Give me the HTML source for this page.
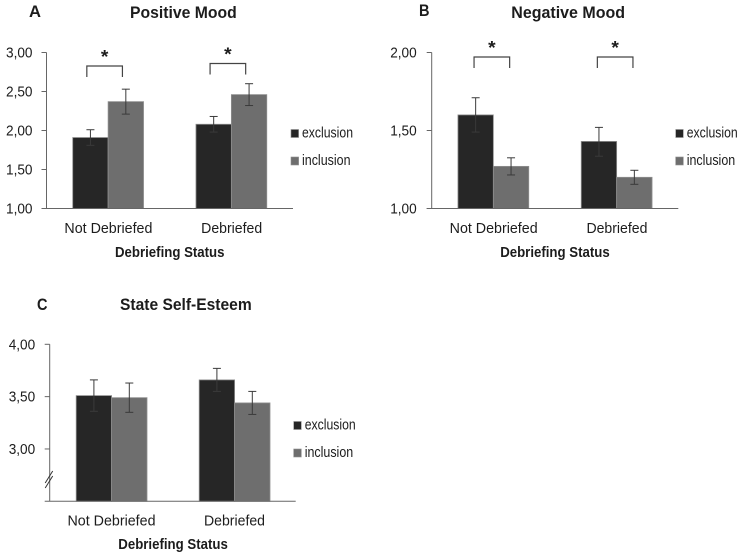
<!DOCTYPE html>
<html lang="en">
<head>
<meta charset="utf-8">
<title>Debriefing Status Charts</title>
<style>
html,body{margin:0;padding:0;background:#fff;width:740px;height:556px;overflow:hidden}
svg{display:block;filter:blur(0.35px)}
text{font-family:"Liberation Sans",sans-serif;fill:#1c1c1c}
</style>
</head>
<body>
<svg id="figure" width="740" height="556" viewBox="0 0 740 556" xmlns="http://www.w3.org/2000/svg"></svg>
<script>
const categories = ["Not Debriefed", "Debriefed"];
const seriesNames = ["exclusion", "inclusion"];
const axisTitle = "Debriefing Status";

const moodPosExclusion = [1.91, 2.08];
const moodPosInclusion = [2.37, 2.46];
const moodPosExclusionLow = [1.81, 1.98];
const moodPosExclusionHigh = [2.01, 2.18];
const moodPosInclusionLow = [2.21, 2.32];
const moodPosInclusionHigh = [2.53, 2.60];
const moodPosTicks = ["1,00", "1,50", "2,00", "2,50", "3,00"];

const moodNegExclusion = [1.60, 1.43];
const moodNegInclusion = [1.27, 1.20];
const moodNegExclusionLow = [1.49, 1.335];
const moodNegExclusionHigh = [1.71, 1.52];
const moodNegInclusionLow = [1.215, 1.155];
const moodNegInclusionHigh = [1.325, 1.245];
const moodNegTicks = ["1,00", "1,50", "2,00"];

const esteemExclusion = [3.51, 3.66];
const esteemInclusion = [3.49, 3.44];
const esteemExclusionLow = [3.36, 3.55];
const esteemExclusionHigh = [3.66, 3.77];
const esteemInclusionLow = [3.35, 3.33];
const esteemInclusionHigh = [3.63, 3.55];
const esteemTicks = ["3,00", "3,50", "4,00"];

const NS = "http://www.w3.org/2000/svg";
const root = document.getElementById("figure");

function make(tag, attrs, parent, name) {
  const el = document.createElementNS(NS, tag);
  for (const k in attrs) el.setAttribute(k, attrs[k]);
  
  
  parent.appendChild(el);
  return el;
}
function label(str, x, y, size, width, weight, anchor, parent, name) {
  const t = make("text", {x: x, y: y, "font-size": size, "font-weight": weight, "text-anchor": anchor, textLength: width, lengthAdjust: "spacingAndGlyphs"}, parent, name);
  t.textContent = str;
  return t;
}
function line(x1, y1, x2, y2, color, w, parent, name) {
  return make("line", {x1: x1, y1: y1, x2: x2, y2: y2, stroke: color, "stroke-width": w}, parent, name);
}

function drawPanel(p) {
  const g = make("g", {}, root, p.id + "-chart");
  const yScale = v => p.bottom - (v - p.min) / (p.max - p.min) * (p.bottom - p.top);
  const catW = (p.right - p.axisX) / categories.length;
  const xCenter = i => p.axisX + catW * (i + 0.5) + p.shift;
  const barW = 35.4;

  label(p.letter, p.letterX, p.letterY, 17, p.letterW, "bold", "start", g, p.id + "-panel-letter");
  label(p.title, p.titleX, p.titleY, 16.5, p.titleW, "bold", "start", g, p.id + "-title");

  /* bars */
  const sets = [
    {vals: p.exc, low: p.excLow, high: p.excHigh, fill: "#262626", off: -barW, key: "exclusion"},
    {vals: p.inc, low: p.incLow, high: p.incHigh, fill: "#6e6e6e", off: 0, key: "inclusion"}
  ];
  sets.forEach(s => {
    s.vals.forEach((v, i) => {
      make("rect", {x: xCenter(i) + s.off, y: yScale(v), width: barW, height: p.bottom - yScale(v), fill: s.fill, stroke: "#8f8f8f", "stroke-width": 0.8}, g, p.id + "-bar-" + s.key + "-" + i);
    });
  });
  /* error bars */
  sets.forEach(s => {
    s.vals.forEach((v, i) => {
      const cx = xCenter(i) + s.off + barW / 2;
      const eg = make("g", {}, g, p.id + "-error-bar-" + s.key + "-" + i);
      line(cx, yScale(s.low[i]), cx, yScale(s.high[i]), "#3a3a3a", 1, eg, "error-stem");
      line(cx - 4, yScale(s.low[i]), cx + 4, yScale(s.low[i]), "#3a3a3a", 1, eg, "error-cap-low");
      line(cx - 4, yScale(s.high[i]), cx + 4, yScale(s.high[i]), "#3a3a3a", 1, eg, "error-cap-high");
    });
  });

  /* axes */
  line(p.axisX, p.top, p.axisX, p.bottom, "#666", 1, g, p.id + "-y-axis");
  line(p.axisX - 5, p.bottom, p.right, p.bottom, "#666", 1, g, p.id + "-x-axis");
  p.ticks.forEach(tk => {
    const v = parseFloat(tk.replace(",", "."));
    line(p.axisX - 5, yScale(v), p.axisX, yScale(v), "#666", 1, g, p.id + "-y-tick");
    label(tk, p.tickRight, yScale(v) + 5, 14.5, 26.5, "normal", "end", g, p.id + "-y-tick-label");
  });
  categories.forEach((c, i) => {
    label(c, p.axisX + catW * (i + 0.5) + 0.3, p.catY, 14.5, i === 0 ? 88 : 61, "normal", "middle", g, p.id + "-category-label");
  });
  label(axisTitle, p.axisTitleX, p.axisTitleY, 14.5, 109.5, "bold", "start", g, p.id + "-x-axis-title");

  /* legend */
  seriesNames.forEach((n, i) => {
    const ly = p.legendY + i * p.legendGap;
    const lg = make("g", {}, g, p.id + "-legend-entry-" + n);
    make("rect", {x: p.legendX, y: ly - 8, width: 7.6, height: 8, fill: i === 0 ? "#262626" : "#6e6e6e", stroke: "#8f8f8f", "stroke-width": 0.6}, lg, "legend-swatch");
    label(n, p.legendX + 11, ly, 14.5, i === 0 ? 51 : 48.5, "normal", "start", lg, "legend-label");
  });

  /* significance brackets */
  (p.brackets || []).forEach((b, i) => {
    const cx = xCenter(i) + (p.bracketShift || 0);
    const bg = make("g", {}, g, p.id + "-significance-bracket-" + i);
    make("path", {d: "M" + (cx - 21.3) + " " + (b + 11) + "V" + b + "H" + (cx + 14.3) + "V" + (b + 11), fill: "none", stroke: "#444", "stroke-width": 1.2}, bg, "bracket-line");
    label("*", cx - 3.5, b - 3, 18, 7.5, "bold", "middle", bg, "significance-star");
  });

  /* axis break */
  if (p.axisBreak) {
    line(p.axisX - 4.5, p.axisBreak + 12, p.axisX + 3, p.axisBreak, "#333", 1, g, "axis-break-mark-upper");
    line(p.axisX - 4.5, p.axisBreak + 17, p.axisX + 3, p.axisBreak + 5, "#333", 1, g, "axis-break-mark-lower");
  }
}

drawPanel({
  id: "positive-mood", letter: "A", letterX: 29, letterY: 17, letterW: 12,
  title: "Positive Mood", titleX: 130, titleY: 18, titleW: 106.7,
  axisX: 46.5, right: 293, top: 52.5, bottom: 208.5, min: 1, max: 3, shift: 0, tickRight: 32.5,
  ticks: moodPosTicks, catY: 233, axisTitleX: 115, axisTitleY: 257,
  exc: moodPosExclusion, inc: moodPosInclusion,
  excLow: moodPosExclusionLow, excHigh: moodPosExclusionHigh,
  incLow: moodPosInclusionLow, incHigh: moodPosInclusionHigh,
  legendX: 291, legendY: 137.5, legendGap: 27.5, brackets: [66, 63.5]
});
drawPanel({
  id: "negative-mood", letter: "B", letterX: 419, letterY: 16, letterW: 10.5,
  title: "Negative Mood", titleX: 511.3, titleY: 18, titleW: 113.7,
  axisX: 431.7, right: 678.3, top: 52.5, bottom: 208.5, min: 1, max: 2, shift: 0, tickRight: 416.7,
  ticks: moodNegTicks, catY: 233, axisTitleX: 500.2, axisTitleY: 257,
  exc: moodNegExclusion, inc: moodNegInclusion,
  excLow: moodNegExclusionLow, excHigh: moodNegExclusionHigh,
  incLow: moodNegInclusionLow, incHigh: moodNegInclusionHigh,
  legendX: 675.7, legendY: 137.5, legendGap: 27.5, brackets: [57, 57], bracketShift: 2
});
drawPanel({
  id: "state-self-esteem", letter: "C", letterX: 37, letterY: 310, letterW: 10.5,
  title: "State Self-Esteem", titleX: 120, titleY: 310, titleW: 131.7,
  axisX: 49.7, right: 295.7, top: 344.3, bottom: 501.3, min: 2.5, max: 4, shift: 0.4, tickRight: 35.2,
  ticks: esteemTicks, catY: 525.7, axisTitleX: 118.3, axisTitleY: 549,
  exc: esteemExclusion, inc: esteemInclusion,
  excLow: esteemExclusionLow, excHigh: esteemExclusionHigh,
  incLow: esteemInclusionLow, incHigh: esteemInclusionHigh,
  legendX: 293.7, legendY: 429.5, legendGap: 27.5, axisBreak: 471
});
</script>
</body>
</html>
